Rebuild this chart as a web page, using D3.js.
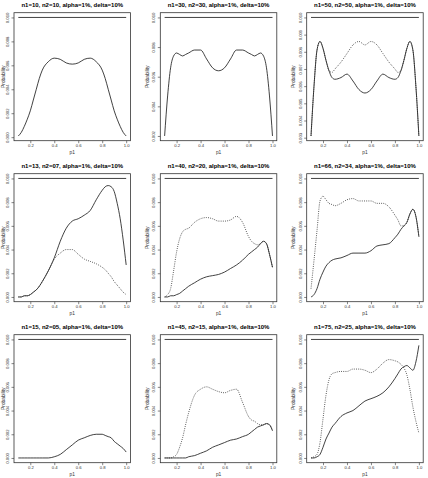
<!DOCTYPE html>
<html><head><meta charset="utf-8">
<script src="https://cdn.jsdelivr.net/npm/d3@7"></script>
<style>html,body{margin:0;padding:0;background:#fff;} svg{display:block;}</style>
</head><body>
<svg id="chart" width="428" height="478"></svg>
<script>
const p1 = [0.1,0.125,0.15,0.175,0.2, 0.225,0.25,0.275,0.3,0.35, 0.4,0.45,0.5,0.55,0.6, 0.65,0.7,0.75,0.8,0.825, 0.85,0.875,0.9,0.925,0.95, 0.975,1.0];
const titles = [
  "n1=10, n2=10, alpha=1%, delta=10%", "n1=30, n2=30, alpha=1%, delta=10%", "n1=50, n2=50, alpha=1%, delta=10%",
  "n1=13, n2=07, alpha=1%, delta=10%", "n1=40, n2=20, alpha=1%, delta=10%", "n1=66, n2=34, alpha=1%, delta=10%",
  "n1=15, n2=05, alpha=1%, delta=10%", "n1=45, n2=15, alpha=1%, delta=10%", "n1=75, n2=25, alpha=1%, delta=10%"
];
const xLabel = "p1";
const yLabel = "Probability";
const alphaLevel = 0.01;
const xTicks = [0.2,0.4,0.6,0.8,1.0];
const yTicksZero = [0,0.002,0.004,0.006,0.008,0.010];
const yTicks_30_30 = [0.002,0.004,0.006,0.008,0.010];
const yTicks_50_50 = [0.003,0.004,0.005,0.006,0.007,0.008,0.009,0.010];

const solid_10_10 = [0.0001,0.0004,0.0009,0.0015,0.0022, 0.0031,0.0040,0.0049,0.0056,0.0063, 0.0066,0.0065,0.0062,0.0061,0.0062, 0.0065,0.0066,0.0063,0.0056,0.0049, 0.0040,0.0031,0.0022,0.0015,0.0009, 0.0004,0.0001];
const solid_30_30 = [0.0020,0.0047,0.0066,0.0074,0.0076, 0.0075,0.0074,0.0075,0.0076,0.0078, 0.0078,0.0072,0.0066,0.0064,0.0066, 0.0072,0.0078,0.0078,0.0076,0.0075, 0.0074,0.0075,0.0076,0.0074,0.0066, 0.0047,0.0020];
const solid_50_50 = [0.0031,0.0060,0.0081,0.0086,0.0082, 0.0075,0.0069,0.0065,0.0064,0.0065, 0.0067,0.0063,0.0058,0.0056,0.0058, 0.0063,0.0067,0.0065,0.0064,0.0065, 0.0069,0.0075,0.0082,0.0086,0.0081, 0.0060,0.0031];
const dotted_50_50 = [0.0031,0.0060,0.0081,0.0086,0.0082, 0.0075,0.0069,0.0068,0.0070,0.0074, 0.0079,0.0084,0.0086,0.0084,0.0086, 0.0084,0.0079,0.0074,0.0070,0.0068, 0.0069,0.0075,0.0082,0.0086,0.0081, 0.0060,0.0031];
const solid_13_07 = [0.0000,0.0000,0.0001,0.0001,0.0002, 0.0004,0.0006,0.0009,0.0013,0.0022, 0.0033,0.0047,0.0058,0.0064,0.0066, 0.0069,0.0073,0.0082,0.0090,0.0093, 0.0094,0.0093,0.0089,0.0079,0.0066, 0.0048,0.0027];
const dotted_13_07 = [0.0000,0.0000,0.0001,0.0001,0.0002, 0.0004,0.0006,0.0009,0.0013,0.0022, 0.0032,0.0037,0.0040,0.0040,0.0036, 0.0032,0.0030,0.0028,0.0025,0.0023, 0.0020,0.0017,0.0013,0.0010,0.0007, 0.0004,0.0002];
const solid_40_20 = [0.0000,0.0000,0.0001,0.0001,0.0002, 0.0003,0.0005,0.0007,0.0009,0.0012, 0.0015,0.0017,0.0018,0.0019,0.0021, 0.0024,0.0027,0.0031,0.0036,0.0038, 0.0040,0.0042,0.0045,0.0047,0.0045, 0.0036,0.0025];
const dotted_40_20 = [0.0000,0.0002,0.0007,0.0022,0.0038, 0.0049,0.0055,0.0057,0.0058,0.0063, 0.0066,0.0067,0.0066,0.0064,0.0064, 0.0065,0.0068,0.0063,0.0051,0.0047, 0.0045,0.0044,0.0045,0.0047,0.0045, 0.0036,0.0025];
const solid_66_34 = [0.0000,0.0002,0.0007,0.0015,0.0021, 0.0026,0.0029,0.0031,0.0032,0.0033, 0.0035,0.0037,0.0037,0.0037,0.0039, 0.0043,0.0044,0.0045,0.0050,0.0053, 0.0057,0.0060,0.0063,0.0070,0.0074, 0.0068,0.0051];
const dotted_66_34 = [0.0007,0.0031,0.0056,0.0081,0.0085, 0.0082,0.0079,0.0078,0.0077,0.0079, 0.0082,0.0083,0.0081,0.0081,0.0081, 0.0079,0.0079,0.0076,0.0069,0.0065, 0.0060,0.0060,0.0063,0.0070,0.0074, 0.0068,0.0051];
const solid_15_05 = [0.0000,0.0000,0.0000,0.0000,0.0000, 0.0000,0.0000,0.0000,0.0000,0.0000, 0.0001,0.0003,0.0007,0.0011,0.0015, 0.0017,0.0019,0.0020,0.0020,0.0019, 0.0018,0.0017,0.0014,0.0012,0.0010, 0.0008,0.0005];
const solid_45_15 = [0.0000,0.0000,0.0000,0.0000,0.0000, 0.0000,0.0000,0.0000,0.0001,0.0002, 0.0004,0.0006,0.0009,0.0011,0.0013, 0.0015,0.0016,0.0018,0.0020,0.0022, 0.0024,0.0026,0.0027,0.0028,0.0029, 0.0028,0.0023];
const dotted_45_15 = [0.0000,0.0000,0.0000,0.0001,0.0003, 0.0009,0.0017,0.0028,0.0038,0.0053, 0.0058,0.0060,0.0058,0.0056,0.0055, 0.0057,0.0058,0.0047,0.0035,0.0032, 0.0031,0.0029,0.0028,0.0028,0.0029, 0.0028,0.0023];
const solid_75_25 = [0.0000,0.0000,0.0001,0.0003,0.0009, 0.0016,0.0021,0.0026,0.0029,0.0035, 0.0038,0.0040,0.0044,0.0048,0.0050, 0.0052,0.0055,0.0060,0.0067,0.0071, 0.0075,0.0077,0.0078,0.0076,0.0074, 0.0081,0.0095];
const dotted_75_25 = [0.0000,0.0001,0.0003,0.0013,0.0033, 0.0053,0.0066,0.0071,0.0072,0.0073, 0.0073,0.0075,0.0075,0.0074,0.0072, 0.0075,0.0080,0.0083,0.0082,0.0081, 0.0079,0.0076,0.0070,0.0058,0.0043, 0.0031,0.0021];

const panels = [
  {title: titles[0], solid: solid_10_10, dotted: null, yTicks: yTicksZero},
  {title: titles[1], solid: solid_30_30, dotted: null, yTicks: yTicks_30_30},
  {title: titles[2], solid: solid_50_50, dotted: dotted_50_50, yTicks: yTicks_50_50},
  {title: titles[3], solid: solid_13_07, dotted: dotted_13_07, yTicks: yTicksZero},
  {title: titles[4], solid: solid_40_20, dotted: dotted_40_20, yTicks: yTicksZero},
  {title: titles[5], solid: solid_66_34, dotted: dotted_66_34, yTicks: yTicksZero},
  {title: titles[6], solid: solid_15_05, dotted: null, yTicks: yTicksZero},
  {title: titles[7], solid: solid_45_15, dotted: dotted_45_15, yTicks: yTicksZero},
  {title: titles[8], solid: solid_75_25, dotted: dotted_75_25, yTicks: yTicksZero}
];

const FONT = '"Liberation Sans", Arial, Helvetica, sans-serif';
const svg = d3.select("#chart");
const colLeft = [14, 160.3, 306.7], rowTop = [12.7, 173.7, 334.7];
const boxW = 116.5, boxH = 128;
const fontTick = 4.2, fontLab = 4.8, fontTitle = 6;
const ink = "#333";

panels.forEach((p, i) => {
  const L = colLeft[i % 3], T = rowTop[Math.floor(i / 3)];
  const xe = d3.extent(p1), xp = (xe[1] - xe[0]) * 0.04;
  const x = d3.scaleLinear().domain([xe[0] - xp, xe[1] + xp]).range([L, L + boxW]);
  const allY = p.solid.concat(p.dotted || [], [alphaLevel]);
  const ye = d3.extent(allY), yp = (ye[1] - ye[0]) * 0.04;
  const y = d3.scaleLinear().domain([ye[0] - yp, ye[1] + yp]).range([T + boxH, T]);
  const g = svg.append("g");

  const ax = g.append("g").attr("transform", `translate(0,${T + boxH})`)
    .call(d3.axisBottom(x).tickValues(xTicks).tickSize(2.5).tickSizeOuter(0).tickPadding(1.2).tickFormat(d3.format(".1f")));
  ax.select(".domain").remove();
  ax.attr("font-size", fontTick).attr("font-family", FONT);
  ax.selectAll("line").attr("stroke", ink).attr("stroke-width", 0.6);
  ax.selectAll("text").attr("fill", ink);

  const ay = g.append("g").attr("transform", `translate(${L},0)`)
    .call(d3.axisLeft(y).tickValues(p.yTicks).tickSize(2.5).tickSizeOuter(0).tickFormat(d3.format(".3f")));
  ay.select(".domain").remove();
  ay.attr("font-size", fontTick).attr("font-family", FONT);
  ay.selectAll("line").attr("stroke", ink).attr("stroke-width", 0.6);
  ay.selectAll("text").attr("x", 0).attr("dy", "0.35em").attr("text-anchor", "middle")
    .attr("transform", "translate(-6.5,0) rotate(-90)").attr("fill", ink);

  g.append("rect").attr("x", L).attr("y", T).attr("width", boxW).attr("height", boxH)
    .attr("fill", "none").attr("stroke", ink).attr("stroke-width", 0.8);

  const line = d3.line().x((d, j) => x(p1[j])).y(d => y(d)).curve(d3.curveMonotoneX);
  const hline = d3.line().x(d => x(d)).y(() => y(alphaLevel));
  g.append("path").datum(xe).attr("d", hline).attr("fill", "none").attr("stroke", "#111").attr("stroke-width", 0.8);
  g.append("path").datum(p.solid).attr("d", line).attr("fill", "none").attr("stroke", "#111").attr("stroke-width", 0.8);
  if (p.dotted) {
    g.append("path").datum(p.dotted).attr("d", line).attr("fill", "none").attr("stroke", "#222")
      .attr("stroke-width", 0.8).attr("stroke-dasharray", "0.9,1.3");
  }

  g.append("text").attr("x", L + boxW / 2).attr("y", T - 5.3).attr("text-anchor", "middle")
    .attr("font-family", FONT).attr("font-weight", "bold").attr("font-size", fontTitle).attr("fill", "#000").text(p.title);
  g.append("text").attr("x", L + boxW / 2).attr("y", T + boxH + 13.5).attr("text-anchor", "middle")
    .attr("font-family", FONT).attr("font-size", fontLab).attr("fill", ink).text(xLabel);
  const yLabX = Math.max(L - 13.3, 3);
  g.append("text").attr("transform", `translate(${yLabX},${T + boxH / 2}) rotate(-90)`).attr("dy", "0.35em")
    .attr("text-anchor", "middle").attr("font-family", FONT).attr("font-size", fontLab).attr("fill", ink).text(yLabel);
});
</script>
</body></html>
